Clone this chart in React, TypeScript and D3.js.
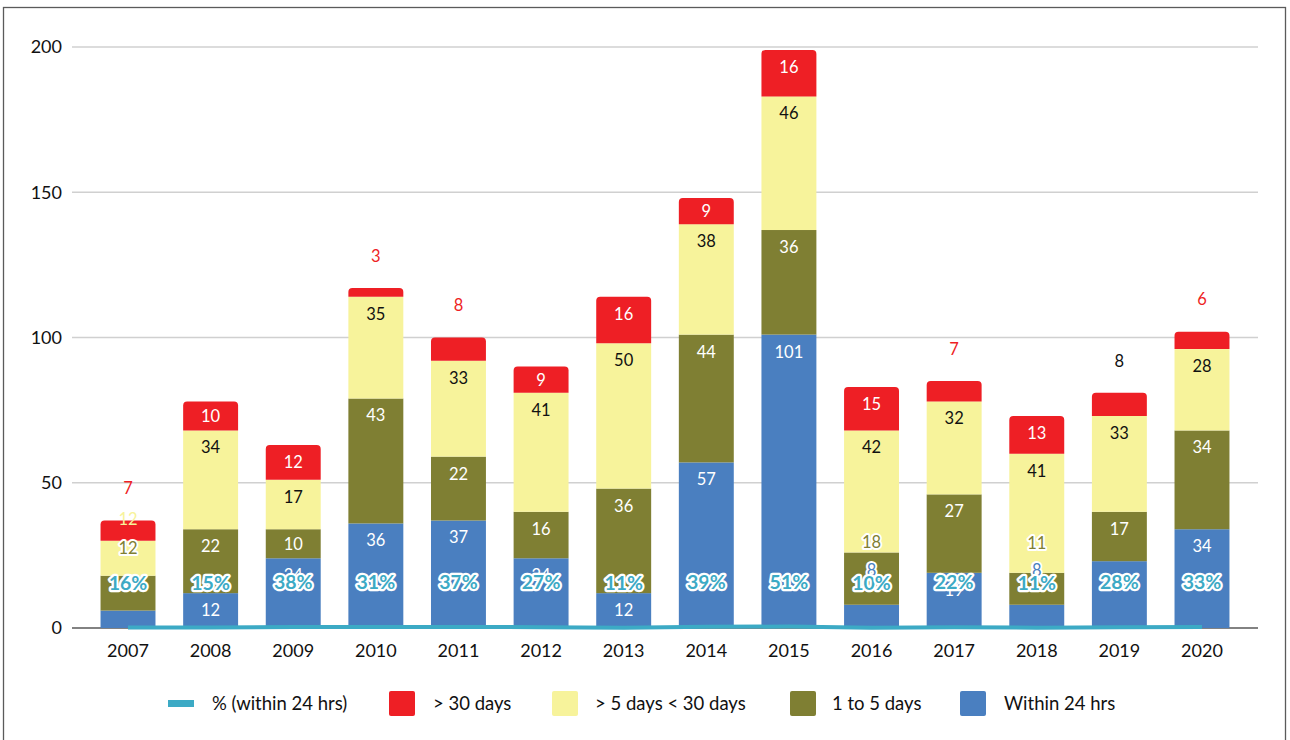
import React from "react";
import * as d3 from "d3";

const years = ["2007", "2008", "2009", "2010", "2011", "2012", "2013", "2014", "2015", "2016", "2017", "2018", "2019", "2020"];
const within24 = [6, 12, 24, 36, 37, 24, 12, 57, 101, 8, 19, 8, 23, 34];
const oneToFive = [12, 22, 10, 43, 22, 16, 36, 44, 36, 18, 27, 11, 17, 34];
const fiveTo30 = [12, 34, 17, 35, 33, 41, 50, 38, 46, 42, 32, 41, 33, 28];
const over30 = [7, 10, 12, 3, 8, 9, 16, 9, 16, 15, 7, 13, 8, 6];
const pctWithin24 = [16, 15, 38, 31, 37, 27, 11, 39, 51, 10, 22, 11, 28, 33];
const yTicks = [0, 50, 100, 150, 200];

const series = [
  { key: "within24", name: "Within 24 hrs", values: within24, fill: "#4a7fc0", text: "#ffffff" },
  { key: "oneToFive", name: "1 to 5 days", values: oneToFive, fill: "#7f7f33", text: "#ffffff" },
  { key: "fiveTo30", name: "> 5 days < 30 days", values: fiveTo30, fill: "#f7f39b", text: "#111111" },
  { key: "over30", name: "> 30 days", values: over30, fill: "#ee1f25", text: "#ffffff" },
];

const TEAL = "#3caac5";

// labels that sit outside their segment (offset of the label centre from the segment top)
const labelOverrides: Record<string, { dy: number; color: string; halo?: boolean }> = {
  "2007:over30": { dy: -32, color: "#ee1f25" },
  "2007:fiveTo30": { dy: -22, color: "#f7f39b" },
  "2007:oneToFive": { dy: -28, color: "#7f7f33", halo: true },
  "2007:within24": { dy: -28, color: "#4a7fc0", halo: true },
  "2010:over30": { dy: -32, color: "#ee1f25" },
  "2011:over30": { dy: -32, color: "#ee1f25" },
  "2016:within24": { dy: -35, color: "#4a7fc0", halo: true },
  "2016:oneToFive": { dy: -10, color: "#7f7f33", halo: true },
  "2017:over30": { dy: -32, color: "#ee1f25" },
  "2018:within24": { dy: -35, color: "#4a7fc0", halo: true },
  "2018:oneToFive": { dy: -30, color: "#7f7f33", halo: true },
  "2019:within24": { dy: 20, color: "#ffffff" },
  "2019:over30": { dy: -32, color: "#111111" },
  "2020:over30": { dy: -33, color: "#ee1f25" },
};

const legendItems = [
  { name: "% (within 24 hrs)", fill: TEAL, line: true, x: 168, tx: 212 },
  { name: "> 30 days", fill: "#ee1f25", line: false, x: 389, tx: 433 },
  { name: "> 5 days < 30 days", fill: "#f7f39b", line: false, x: 552, tx: 595 },
  { name: "1 to 5 days", fill: "#7f7f33", line: false, x: 790, tx: 832 },
  { name: "Within 24 hrs", fill: "#4a7fc0", line: false, x: 960, tx: 1004 },
];

function roundedTop(x: number, y: number, w: number, h: number, r: number) {
  const rr = Math.min(r, h, w / 2);
  return `M${x},${y + h}V${y + rr}Q${x},${y} ${x + rr},${y}H${x + w - rr}Q${x + w},${y} ${x + w},${y + rr}V${y + h}Z`;
}

export default function App() {
  const W = 1290;
  const H = 740;
  const font = "Lato, 'Open Sans', sans-serif";

  const x = d3.scaleBand().domain(years).range([86.7, 1243.3]).paddingInner(0.335).paddingOuter(0.1675);
  const y = d3.scaleLinear().domain([0, 200]).range([628, 47]);

  const rows = years.map((yr, i) => {
    const o: Record<string, number | string> = { year: yr };
    series.forEach((s) => (o[s.key] = s.values[i]));
    return o;
  });
  const stacked = d3.stack<any>().keys(series.map((s) => s.key))(rows);

  const line = d3
    .line<number>()
    .x((_, i) => (x(years[i]) as number) + x.bandwidth() / 2)
    .y((d) => y(d / 100));

  return (
    <svg width={W} height={H} style={{ position: "absolute", left: 0, top: 0, background: "#fff" }} fontFamily={font}>
      <rect x={3.5} y={7.5} width={1282} height={780} fill="none" stroke="#5a5a5a" strokeWidth={1.3} />

      {yTicks.map((t) => (
        <g key={t}>
          {t > 0 && <line x1={72} x2={1258} y1={y(t)} y2={y(t)} stroke="#d0d0d0" strokeWidth={1.5} />}
          <text x={62} y={y(t)} dy="0.36em" textAnchor="end" fontSize={18} fill="#111">
            {t}
          </text>
        </g>
      ))}
      <line x1={72} x2={1258} y1={y(0)} y2={y(0)} stroke="#595959" strokeWidth={1.5} />

      {stacked.map((layer, si) => {
        const s = series[si];
        return (
          <g key={s.key}>
            {layer.map((d, i) => {
              const bx = x(years[i]) as number;
              const top = y(d[1]);
              const h = y(d[0]) - y(d[1]);
              if (si === series.length - 1) {
                return <path key={i} d={roundedTop(bx, top, x.bandwidth(), h, 4)} fill={s.fill} />;
              }
              return <rect key={i} x={bx} y={top} width={x.bandwidth()} height={h} fill={s.fill} />;
            })}
          </g>
        );
      })}

      {stacked.map((layer, si) => {
        const s = series[si];
        return (
          <g key={s.key + "-lab"}>
            {layer.map((d, i) => {
              const cx = (x(years[i]) as number) + x.bandwidth() / 2;
              const top = y(d[1]);
              const h = y(d[0]) - y(d[1]);
              const ov = labelOverrides[`${years[i]}:${s.key}`];
              const cy = ov ? top + ov.dy : top + Math.min(17, h / 2);
              return (
                <text
                  key={i}
                  x={cx}
                  y={cy}
                  dy="0.36em"
                  textAnchor="middle"
                  fontSize={16.5}
                  fill={ov ? ov.color : s.text}
                  stroke={ov && ov.halo ? "#fff" : "none"}
                  strokeWidth={ov && ov.halo ? 4 : 0}
                  strokeLinejoin="round"
                  paintOrder="stroke"
                >
                  {s.values[i]}
                </text>
              );
            })}
          </g>
        );
      })}

      <path d={line(pctWithin24) || ""} fill="none" stroke={TEAL} strokeWidth={4} />

      {pctWithin24.map((p, i) => (
        <text
          key={i}
          x={(x(years[i]) as number) + x.bandwidth() / 2}
          y={y(p / 100) - 45}
          dy="0.36em"
          textAnchor="middle"
          fontSize={19.5}
          fontWeight="bold"
          fill={TEAL}
          stroke="#fff"
          strokeWidth={4.5}
          strokeLinejoin="round"
          paintOrder="stroke"
        >
          {p}%
        </text>
      ))}

      {years.map((yr) => (
        <text key={yr} x={(x(yr) as number) + x.bandwidth() / 2} y={651} dy="0.36em" textAnchor="middle" fontSize={18} fill="#111">
          {yr}
        </text>
      ))}

      {legendItems.map((it) => (
        <g key={it.name}>
          {it.line ? (
            <rect x={it.x} y={700} width={26} height={7} fill={it.fill} />
          ) : (
            <rect x={it.x} y={691} width={26} height={25} rx={2} fill={it.fill} />
          )}
          <text x={it.tx} y={703.5} dy="0.36em" fontSize={18.5} fill="#111">
            {it.name}
          </text>
        </g>
      ))}
    </svg>
  );
}
